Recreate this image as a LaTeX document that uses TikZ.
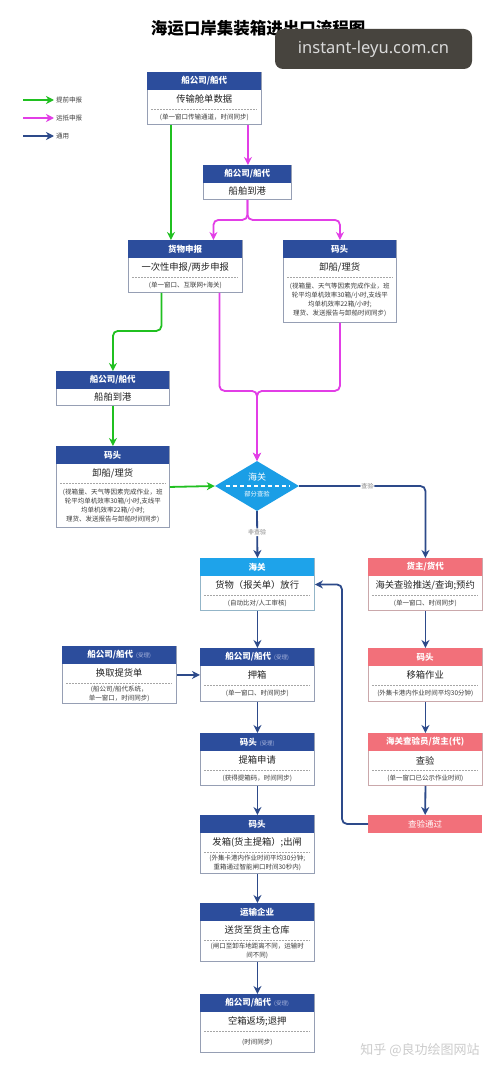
\documentclass[tikz,border=0pt]{standalone}
\usepackage{fontspec}
\setmainfont{Noto Sans CJK SC}
\newfontfamily\wmfont{Noto Sans}
\usetikzlibrary{arrows.meta,shapes.geometric,calc}
\definecolor{navy}{RGB}{44,77,156}
\definecolor{cyanh}{RGB}{30,163,234}
\definecolor{salmon}{RGB}{242,112,122}
\definecolor{greenc}{RGB}{32,192,32}
\definecolor{pinkc}{RGB}{226,62,230}
\definecolor{bluec}{RGB}{45,74,138}
\definecolor{diac}{RGB}{26,158,230}
\definecolor{shoulic}{RGB}{170,182,222}
\definecolor{txt}{RGB}{34,34,34}
\definecolor{smalltxt}{RGB}{60,60,60}
\definecolor{wmbg}{RGB}{71,68,62}
\newcommand\shouli{\hspace{3pt}{\fontsize{5.5}{6}\selectfont\mdseries\color{shoulic}(受理)}}
% name, x, y, width, height, colour, header, main, small
\newcommand\stage[9]{%
  \node[frame, draw=#6!40!gray!65!white, minimum width=#4, minimum height=#5] (#1) at (#2,#3) {};
  \node[head, fill=#6, minimum width=#4] (#1h) at (#2,#3) {#7};
  \node[maintext] (#1m) at ($(#1h.south)+(0,9.5)$) {#8};
  \draw[sep] ($(#1h.south west)+(4,19)$) -- ($(#1h.south east)+(-4,19)$);
  \node[smalltext] (#1s) at ($(#1h.south)!0.5!(#1.south)+(0,9.5)$) {#9};
}
% name, x, y, width, height, colour, header, main
\newcommand\simplestage[8]{%
  \node[frame, draw=#6!40!gray!65!white, minimum width=#4, minimum height=#5] (#1) at (#2,#3) {};
  \node[head, fill=#6, minimum width=#4] (#1h) at (#2,#3) {#7};
  \node[maintext] (#1m) at ($(#1h.south)!0.5!(#1.south)$) {#8};
}
\begin{document}
\begin{tikzpicture}[x=1pt,y=-1pt,
  frame/.style={draw, line width=0.9pt, fill=white, inner sep=0, anchor=north west},
  head/.style={inner sep=0, anchor=north west, minimum height=17.5, text=white,
    font=\bfseries\fontsize{8.5}{10}\selectfont},
  maintext/.style={inner sep=0, text=txt, font=\fontsize{9.3}{11}\selectfont},
  smalltext/.style={inner sep=0, text=smalltxt, align=center, font=\fontsize{6.5}{9}\selectfont},
  sep/.style={draw=gray!70, line width=0.6pt, dash pattern=on 1.5pt off 1.5pt},
  conn/.style={line width=1.8pt, rounded corners=5pt, -{Stealth[length=8pt,width=8pt,inset=2.5pt]}},
  gline/.style={conn, draw=greenc},
  pline/.style={conn, draw=pinkc},
  bline/.style={conn, draw=bluec},
  lbl/.style={fill=white, inner sep=1pt, text=gray, font=\fontsize{6}{7}\selectfont},
  legtext/.style={anchor=west, inner sep=2pt, text=smalltxt, font=\fontsize{6.5}{8}\selectfont}
]
\fill[white] (0,0) rectangle (500,1070);
\useasboundingbox (0,0) rectangle (500,1070);

% title and watermark
\node[font=\bfseries\fontsize{16.5}{18}\selectfont, text=black] (title) at (258,28) {海运口岸集装箱进出口流程图};
\node[fill=wmbg, rounded corners=8pt, minimum width=197, minimum height=40, inner sep=0,
  text=white!85!black, font=\wmfont\fontsize{16.5}{18}\selectfont] (wm) at (373.5,49) {instant-leyu.com.cn};
\node[text=black!20, font=\fontsize{13}{15}\selectfont] (zh) at (420,1050) {知乎 @良功绘图网站};

% legend
\coordinate (lg1s) at (23,100);
\coordinate (lg2s) at (23,118);
\coordinate (lg3s) at (23,136);
\node[legtext] (lg1) at (54,100) {提前申报};
\node[legtext] (lg2) at (54,118) {运抵申报};
\node[legtext] (lg3) at (54,136) {通用};
\draw[gline, line width=1.5pt] (lg1s) -- (lg1.west);
\draw[pline, line width=1.5pt] (lg2s) -- (lg2.west);
\draw[bline, line width=1.5pt] (lg3s) -- (lg3.west);

% boxes
\stage{b1}{147}{72}{114}{52}{navy}{船公司/船代}{传输舱单数据}{(单一窗口传输通道，时间同步)}
\simplestage{b2}{203}{165}{88}{34}{navy}{船公司/船代}{船舶到港}
\stage{b3}{128}{240}{114}{52}{navy}{货物申报}{一次性申报/两步申报}{(单一窗口、互联网+海关)}
\stage{b4}{283}{240}{113}{82}{navy}{码头}{卸船/理货}{(视箱量、天气等因素完成作业，班\\轮平均单机效率30箱/小时,支线平\\均单机效率22箱/小时;\\理货、发送报告与卸船时间同步)}
\simplestage{b5}{56}{371}{113}{34}{navy}{船公司/船代}{船舶到港}
\stage{b6}{56}{446}{113}{81}{navy}{码头}{卸船/理货}{(视箱量、天气等因素完成作业，班\\轮平均单机效率30箱/小时,支线平\\均单机效率22箱/小时;\\理货、发送报告与卸船时间同步)}

\node[diamond, fill=diac, minimum width=84, minimum height=50, inner sep=0] (dia) at (257,486) {};
\node[text=white, inner sep=0, font=\fontsize{9}{10}\selectfont] (diat) at (257,477) {海关};
\node[text=white, inner sep=0, font=\fontsize{6.3}{7}\selectfont] (dias) at (257,494.5) {部分查验};
\draw[white, line width=1.3pt, dash pattern=on 4pt off 3pt] ($(dia.west)+(11,0)$) -- ($(dia.east)+(-10,0)$);

\stage{b7}{200}{558}{114}{52}{cyanh}{海关}{货物（报关单）放行}{(自动比对/人工审核)}
\stage{b8}{368}{558}{114}{52}{salmon}{货主/货代}{海关查验推送/查询;预约}{(单一窗口、时间同步)}
\stage{b9}{200}{648}{114}{53}{navy}{船公司/船代\shouli}{押箱}{(单一窗口、时间同步)}
\stage{b10}{62}{646}{114}{57}{navy}{船公司/船代\shouli}{换取提货单}{(船公司/船代系统，\\单一窗口，时间同步)}
\stage{b11}{368}{648}{114}{53}{salmon}{码头}{移箱作业}{(外集卡港内作业时间平均30分钟)}
\stage{b12}{200}{733}{114}{52}{navy}{码头\shouli}{提箱申请}{(获得提箱码，时间同步)}
\stage{b13}{368}{733}{114}{52}{salmon}{海关查验员/货主(代)}{查验}{(单一窗口已公示作业时间)}
\node[head, fill=salmon, minimum width=114, font=\fontsize{8.5}{10}\selectfont] (pass) at (368,815) {查验通过};
\stage{b14}{200}{815}{114}{58}{navy}{码头}{发箱(货主提箱）;出闸}{(外集卡港内作业时间平均30分钟;\\重箱通过智能闸口时间30秒内)}
\stage{b15}{200}{903}{114}{58}{navy}{运输企业}{送货至货主仓库}{(闸口至卸车地距离不同，运输时\\间不同)}
\stage{b16}{200}{994}{114}{58}{navy}{船公司/船代\shouli}{空箱返场;退押}{(时间同步)}

% connectors
\coordinate (g1) at ([xshift=-33.5]b1.south);
\coordinate (p1) at ([xshift=43.5]b1.south);
\draw[gline, line width=2.2pt] (g1) -- (g1 |- b3.north);
\draw[pline, line width=2.2pt] (p1) -- (p1 |- b2.north);
\draw[pline] (b2.south) -- ++(0,20) -| ([xshift=28]b3.north);
\draw[pline] (b2.south) -- ++(0,20) -| (b4.north);
\draw[gline] ([xshift=-24]b3.south) -- ++(0,38) -| (b5.north);
\draw[pline] ([xshift=34]b3.south) -- ++(0,98) -| (dia.north);
\draw[pline] (b4.south) -- ++(0,68) -| (dia.north);
\draw[gline] (b5.south) -- (b6.north);
\draw[gline] (b6.east) -- (dia.west);
\draw[bline] (dia.east) -| node[lbl, pos=0.27] {查验} (b8.north);
\draw[bline] (dia.south) -- node[lbl, pos=0.45] {非查验} (b7.north);
\draw[bline] (b7.south) -- (b9.north);
\draw[bline] (b10.east) -- (b9.west);
\draw[bline] (b8.south) -- (b11.north);
\draw[bline] (b9.south) -- (b12.north);
\draw[bline] (b11.south) -- (b13.north);
\draw[bline] (b13.south) -- (pass.north);
\draw[bline] (pass.west) -- ++(-26,0) |- (b7.east);
\draw[bline] (b12.south) -- (b14.north);
\draw[bline] (b14.south) -- (b15.north);
\draw[bline] (b15.south) -- (b16.north);
\end{tikzpicture}
\end{document}
